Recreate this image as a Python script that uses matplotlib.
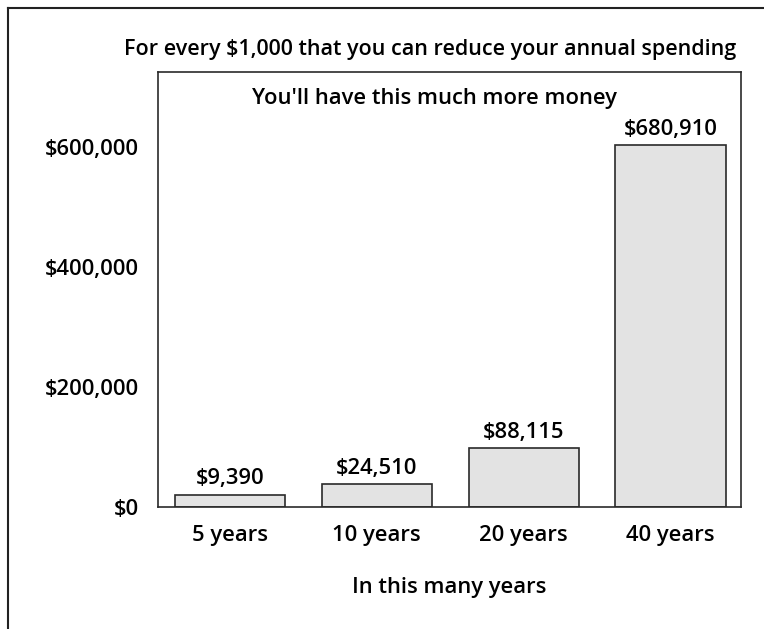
import matplotlib
matplotlib.use("Agg")
import matplotlib.pyplot as plt
from matplotlib.lines import Line2D

categories = ["5 years", "10 years", "20 years", "40 years"]
bar_values = [20000, 38000, 98000, 603000]
bar_labels = ["$9,390", "$24,510", "$88,115", "$680,910"]
y_ticks = [0, 200000, 400000, 600000]
y_tick_labels = ["$0", "$200,000", "$400,000", "$600,000"]

FONT = "Open Sans"
W = "semibold"
FS = 15.8

fig = plt.figure(figsize=(7.64, 6.29), dpi=100)
ax = fig.add_axes([158/764, 1-507/629, (741-158)/764, (507-72)/629])

x = list(range(len(categories)))
bars = ax.bar(x, bar_values, width=0.75, color="#e3e3e3", edgecolor="#2a2a2a", linewidth=1.2)
for xi, v, lab in zip(x, bar_values, bar_labels):
    ax.annotate(lab, (xi, v), xytext=(0, 4), textcoords="offset points",
                ha="center", va="bottom", fontsize=FS, family=FONT, weight=W)

ax.set_xlim(-0.49, 3.48)
ax.set_ylim(0, 725000)
ax.set_yticks(y_ticks)
ax.set_yticklabels(y_tick_labels, family=FONT, weight=W, fontsize=FS)
ax.set_xticks(x)
ax.set_xticklabels(categories, family=FONT, weight=W, fontsize=FS)
ax.tick_params(length=0)
ax.tick_params(axis="y", pad=14)
ax.tick_params(axis="x", pad=13)
for s in ax.spines.values():
    s.set_color("#2a2a2a")
    s.set_linewidth(1.2)

ax.text(0.475, 0.94, "You'll have this much more money", transform=ax.transAxes,
        ha="center", va="center", fontsize=FS, family=FONT, weight=W)
ax.set_xlabel("In this many years", family=FONT, weight=W, fontsize=FS, labelpad=22)

fig.text(430/764, 1-49/629, "For every $1,000 that you can reduce your annual spending",
         ha="center", va="center", fontsize=15.5, family=FONT, weight=W)

# outer frame (top and left edges)
fig.add_artist(Line2D([8/764, 1.0], [1-8/629, 1-8/629], transform=fig.transFigure, color="#222222", lw=1.5))
fig.add_artist(Line2D([8/764, 8/764], [0.0, 1-8/629], transform=fig.transFigure, color="#222222", lw=1.5))

fig.savefig("out.png", dpi=100)
